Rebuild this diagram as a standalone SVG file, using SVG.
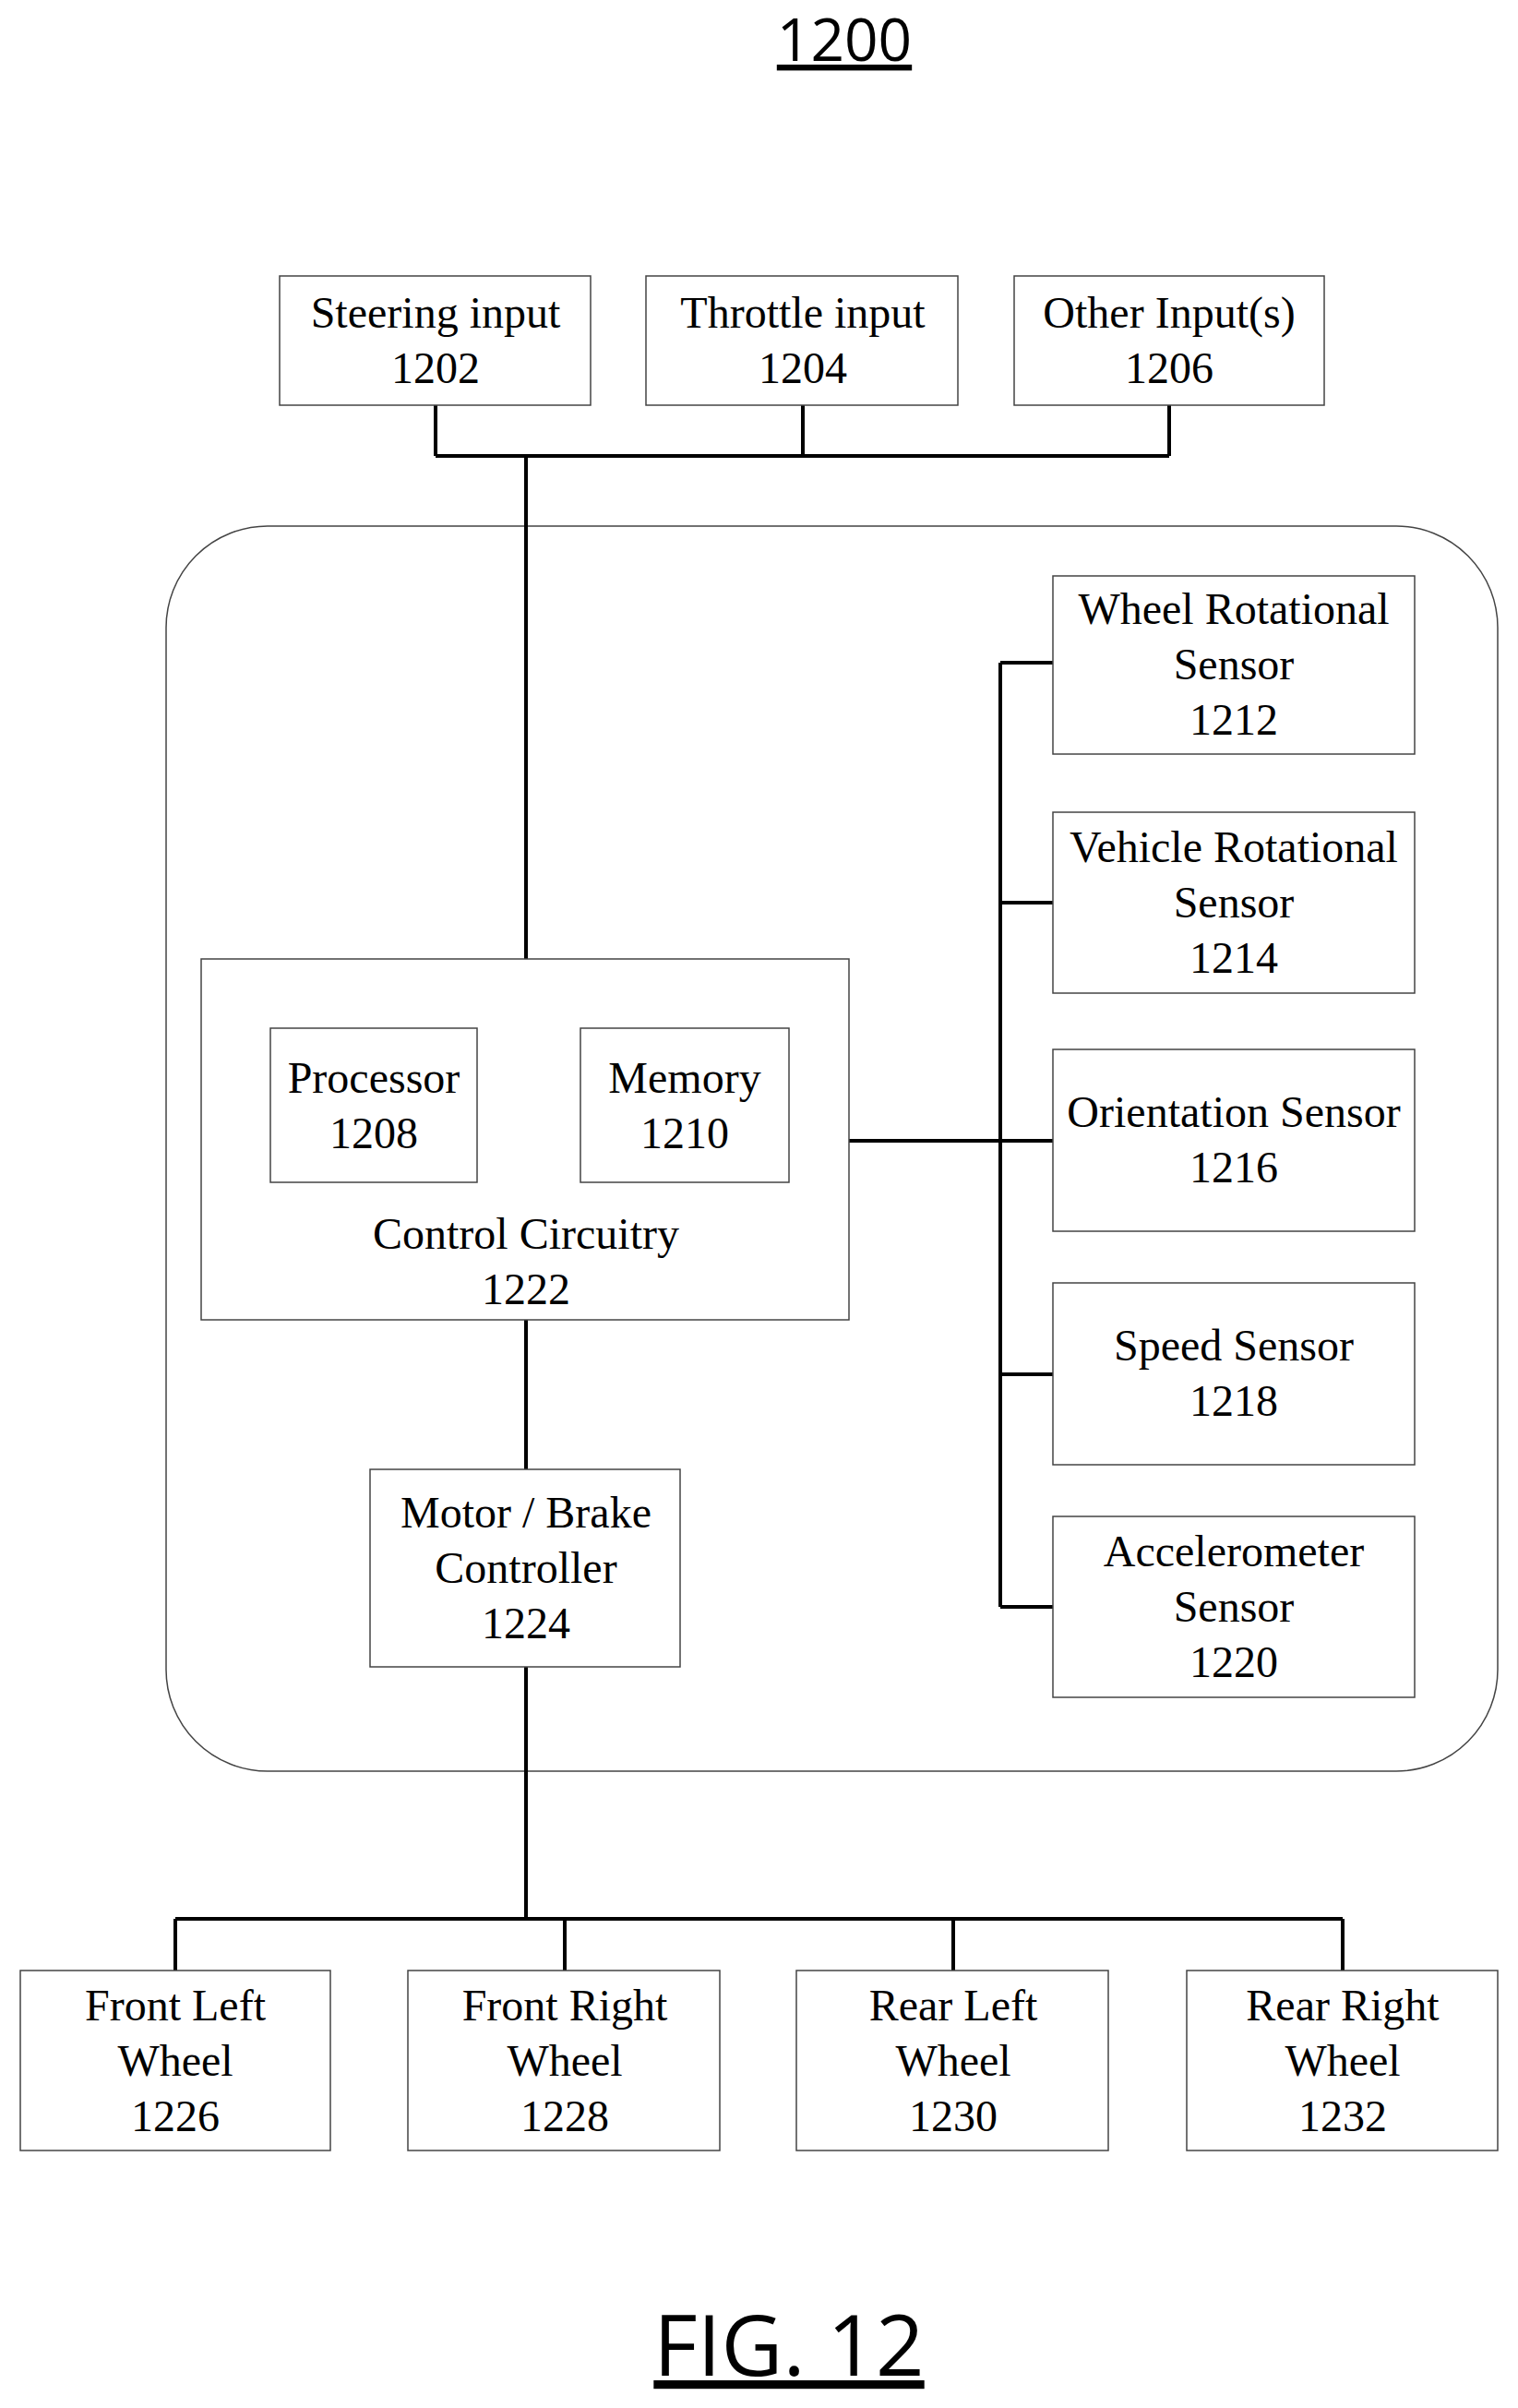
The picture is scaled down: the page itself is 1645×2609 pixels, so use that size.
<svg xmlns="http://www.w3.org/2000/svg" width="1645" height="2609" viewBox="0 0 1645 2609">
<style>
.b{fill:#fff;stroke:#444;stroke-width:1.5}
.t{font-family:"Liberation Serif",serif;font-size:48px;text-anchor:middle;fill:#000}
.c{fill:none;stroke:#000;stroke-width:4}
.h{font-family:"Open Sans",sans-serif;text-anchor:middle;text-decoration:underline;fill:#000}
</style>
<rect width="1645" height="2609" fill="#fff"/>
<text class="h" x="915" y="66" font-size="64">1200</text>
<rect id="frame" x="180" y="570" width="1443" height="1349" rx="110" fill="none" stroke="#444" stroke-width="1.5"/>
<g id="connectors">
<path class="c" d="M472 439V494M870 439V494M1267 439V494M472 494H1267M570 494V1039"/>
<path class="c" d="M570 1430V1592M570 1806V2079M190 2079H1455M190 2079V2135M612 2079V2135M1033 2079V2135M1455 2079V2135"/>
<path class="c" d="M920 1236H1141M1084 718V1741M1084 718H1141M1084 978H1141M1084 1489H1141M1084 1741H1141"/>
</g>
<g id="n1202"><rect class="b" x="303" y="299" width="337" height="140"/><text class="t" x="472" y="355">Steering input</text><text class="t" x="472" y="415">1202</text></g>
<g id="n1204"><rect class="b" x="700" y="299" width="338" height="140"/><text class="t" x="870" y="355">Throttle input</text><text class="t" x="870" y="415">1204</text></g>
<g id="n1206"><rect class="b" x="1099" y="299" width="336" height="140"/><text class="t" x="1267" y="355">Other Input(s)</text><text class="t" x="1267" y="415">1206</text></g>
<g id="n1222"><rect class="b" x="218" y="1039" width="702" height="391"/><text class="t" x="570" y="1353">Control Circuitry</text><text class="t" x="570" y="1413">1222</text></g>
<g id="n1208"><rect class="b" x="293" y="1114" width="224" height="167"/><text class="t" x="405" y="1184">Processor</text><text class="t" x="405" y="1244">1208</text></g>
<g id="n1210"><rect class="b" x="629" y="1114" width="226" height="167"/><text class="t" x="742" y="1184">Memory</text><text class="t" x="742" y="1244">1210</text></g>
<g id="n1212"><rect class="b" x="1141" y="624" width="392" height="193"/><text class="t" x="1337" y="676">Wheel Rotational</text><text class="t" x="1337" y="736">Sensor</text><text class="t" x="1337" y="796">1212</text></g>
<g id="n1214"><rect class="b" x="1141" y="880" width="392" height="196"/><text class="t" x="1337" y="934">Vehicle Rotational</text><text class="t" x="1337" y="994">Sensor</text><text class="t" x="1337" y="1054">1214</text></g>
<g id="n1216"><rect class="b" x="1141" y="1137" width="392" height="197"/><text class="t" x="1337" y="1221">Orientation Sensor</text><text class="t" x="1337" y="1281">1216</text></g>
<g id="n1218"><rect class="b" x="1141" y="1390" width="392" height="197"/><text class="t" x="1337" y="1474">Speed Sensor</text><text class="t" x="1337" y="1534">1218</text></g>
<g id="n1220"><rect class="b" x="1141" y="1643" width="392" height="196"/><text class="t" x="1337" y="1697">Accelerometer</text><text class="t" x="1337" y="1757">Sensor</text><text class="t" x="1337" y="1817">1220</text></g>
<g id="n1224"><rect class="b" x="401" y="1592" width="336" height="214"/><text class="t" x="570" y="1655">Motor / Brake</text><text class="t" x="570" y="1715">Controller</text><text class="t" x="570" y="1775">1224</text></g>
<g id="n1226"><rect class="b" x="22" y="2135" width="336" height="195"/><text class="t" x="190" y="2189">Front Left</text><text class="t" x="190" y="2249">Wheel</text><text class="t" x="190" y="2309">1226</text></g>
<g id="n1228"><rect class="b" x="442" y="2135" width="338" height="195"/><text class="t" x="612" y="2189">Front Right</text><text class="t" x="612" y="2249">Wheel</text><text class="t" x="612" y="2309">1228</text></g>
<g id="n1230"><rect class="b" x="863" y="2135" width="338" height="195"/><text class="t" x="1033" y="2189">Rear Left</text><text class="t" x="1033" y="2249">Wheel</text><text class="t" x="1033" y="2309">1230</text></g>
<g id="n1232"><rect class="b" x="1286" y="2135" width="337" height="195"/><text class="t" x="1455" y="2189">Rear Right</text><text class="t" x="1455" y="2249">Wheel</text><text class="t" x="1455" y="2309">1232</text></g>
<text class="h" x="855" y="2574" font-size="92">FIG. 12</text>
</svg>
